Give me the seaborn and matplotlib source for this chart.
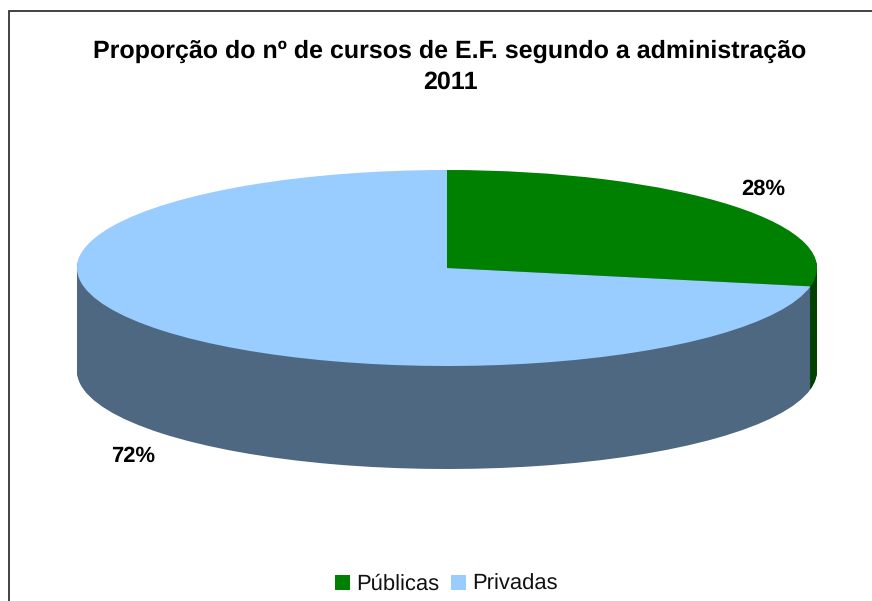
import matplotlib
matplotlib.use("Agg")
import matplotlib.pyplot as plt
from matplotlib.patches import Patch, Rectangle
import seaborn as sns

categories = ["Públicas", "Privadas"]
values = [28, 72]
pct_labels = ["28%", "72%"]
title = "Proporção do nº de cursos de E.F. segundo a administração\n2011"

top_colors = ["#008000", "#99CCFF"]
side_colors = ["#004000", "#4F6882"]

W, H = 872, 601
CX, CY, RX, RY = 447, 268, 370, 98
DEPTH = 103 / RY

sns.set_theme(style="white")
plt.rcParams["font.family"] = ["Liberation Sans", "DejaVu Sans"]
plt.rcParams["text.hinting"] = "none"
plt.rcParams["text.hinting_factor"] = 1

fig = plt.figure(figsize=(W / 100, H / 100), dpi=100, facecolor="white")
ax = fig.add_axes([0, 0, 1, 1])

steps = 120
for i in range(steps, 0, -1):
    ax.pie(values, colors=side_colors, startangle=90, counterclock=False,
           center=(0, -DEPTH * i / steps), radius=1, frame=True,
           wedgeprops={"linewidth": 0})
ax.pie(values, colors=top_colors, startangle=90, counterclock=False,
       center=(0, 0), radius=1, frame=True, wedgeprops={"linewidth": 0})

ax.set_aspect("auto")
ax.set_xlim(-CX / RX, (W - CX) / RX)
ax.set_ylim(-(H - CY) / RY, CY / RY)
ax.set_xticks([])
ax.set_yticks([])
for s in ax.spines.values():
    s.set_visible(False)

fig.add_artist(Rectangle((9 / W, -0.05), (W + 40) / W, 1.05 - 11 / H,
                         transform=fig.transFigure, fill=False,
                         edgecolor="#333333", linewidth=1.3))

fig.text(450 / W, 1 - 67 / H, title, ha="center", va="center", fontsize=17.9,
         fontweight="bold", color="black", linespacing=1.43)

label_px = [(763, 189), (133, 456)]
for txt, (px, py) in zip(pct_labels, label_px):
    fig.text(px / W, 1 - py / H, txt, ha="center", va="center", fontsize=16,
             fontweight="bold", color="black")

handles = [Patch(facecolor=c, edgecolor="none") for c in top_colors]
fig.legend(handles, categories, loc="center", bbox_to_anchor=(446.5 / W, 1 - 584.5 / H),
           ncol=2, frameon=False, fontsize=15.8, handlelength=0.68, handleheight=0.68,
           handletextpad=0.3, columnspacing=0.5, borderpad=0, labelcolor="#111111")

fig.savefig("out.png", dpi=100, facecolor="white")
